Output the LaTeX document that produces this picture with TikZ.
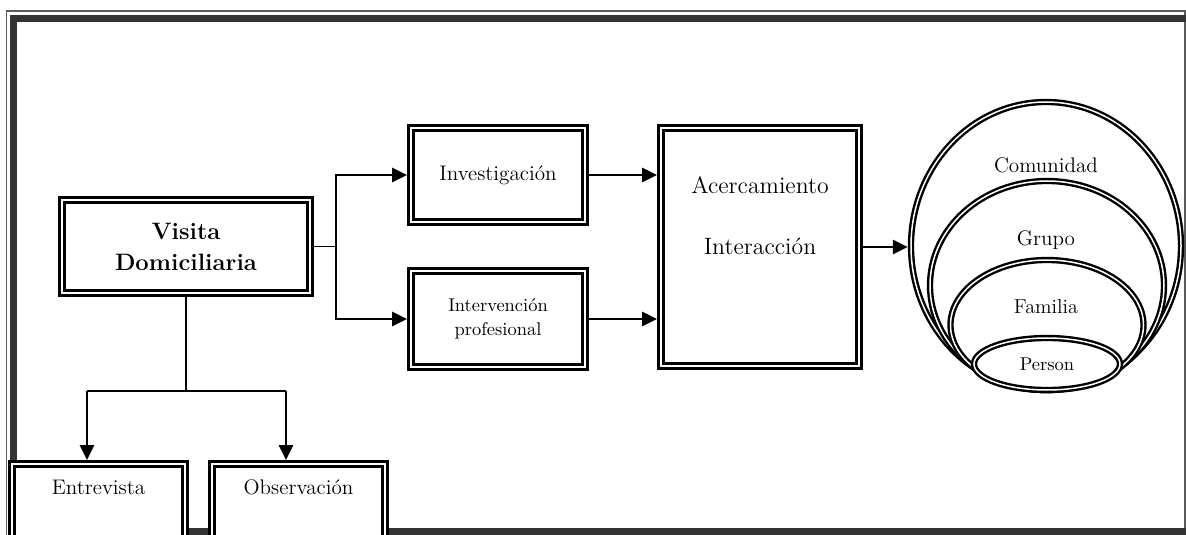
\documentclass[tikz,border=0pt]{standalone}
\usepackage{fontspec}
\usetikzlibrary{arrows.meta,shapes.geometric}
\definecolor{marcooscuro}{HTML}{333333}
\definecolor{marcogris}{HTML}{5A5A5A}

\begin{document}
\begin{tikzpicture}[x=0.2mm,y=-0.2mm,font=\fontsize{12}{14}\selectfont,
    caja/.style={draw,double,line width=0.65mm,double distance=0.3mm,fill=white,
                 inner sep=0pt,outer sep=0.8mm,align=center},
    ovalo/.style={draw,double,ellipse,line width=0.48mm,double distance=0.3mm,
                  fill=white,inner sep=0pt,outer sep=0.63mm},
    flecha/.style={line width=0.55mm,-{Triangle[length=3mm,width=2.8mm]}},
    linea/.style={line width=0.3mm}]
    \useasboundingbox (0,0) rectangle (1186,535);
    \clip (0,0) rectangle (1186,535);
    \draw[marcogris,line width=0.25mm] (6.5,600) |- (1185,11) -- (1185,600);
    \draw[marcooscuro,line width=1.4mm] (13.5,600) |- (1200,18.5);
    \draw[marcooscuro,line width=1.4mm] (13.5,531.5) -- (1200,531.5);

    \node[caja,minimum width=49.6mm,minimum height=18.6mm,
          font=\fontsize{13.5}{17.6}\selectfont\bfseries] (visita) at (186,246.5) {Visita\\Domiciliaria};
    \node[caja,minimum width=34.8mm,minimum height=18.8mm] (inv) at (498,175) {Investigación};
    \node[caja,minimum width=34.8mm,minimum height=19.2mm,
          font=\fontsize{10.5}{14}\selectfont] (interv) at (498,319) {Intervención\\profesional};
    \node[caja,minimum width=39.6mm,minimum height=47.6mm] (acer) at (760,247) {};
    \node[font=\fontsize{13.5}{16}\selectfont,align=center] (acertxt) at (760,215.5) {Acercamiento\\[18.6pt]Interacción};
    \node[caja,anchor=north,minimum width=34.6mm,text height=6mm,text depth=20mm] (entre) at (98.5,460) {Entrevista};
    \node[caja,anchor=north,minimum width=34.6mm,text height=6mm,text depth=20mm] (obs) at (298.5,460) {Observación};

    \node[ovalo,minimum width=54mm,minimum height=57.6mm] (comunidad) at (1046,246) {};
    \node[ovalo,minimum width=46.8mm,minimum height=41.8mm] (grupo) at (1047,285.5) {};
    \node[ovalo,minimum width=38.6mm,minimum height=26mm] (familia) at (1047,325) {};
    \node[ovalo,minimum width=29.2mm,minimum height=10.4mm,
          font=\fontsize{10.5}{12}\selectfont] (persona) at (1047,364) {Person};
    \node (comtxt) at (1046,165) {Comunidad};
    \node (grutxt) at (1046,240) {Grupo};
    \node[font=\fontsize{11.5}{13}\selectfont] (famtxt) at (1046,307) {Familia};

    \coordinate (rama) at (336,246.5);
    \draw[linea] (visita.east) -- (rama);
    \draw[flecha] (rama) |- (inv.west);
    \draw[flecha] (rama) |- (interv.west);
    \draw[flecha] (inv.east) -- (inv.east -| acer.west);
    \draw[flecha] (interv.east) -- (interv.east -| acer.west);
    \draw[flecha] (acer.east) -- (acer.east -| comunidad.west);

    \coordinate (bajo) at (186,391);
    \coordinate (izq) at (87,391);
    \coordinate (der) at (286,391);
    \draw[linea] (visita.south) -- (bajo);
    \draw[line width=0.45mm] (izq) -- (der);
    \draw[flecha] (izq) -- (izq |- entre.north);
    \draw[flecha] (der) -- (der |- obs.north);
\end{tikzpicture}
\end{document}
